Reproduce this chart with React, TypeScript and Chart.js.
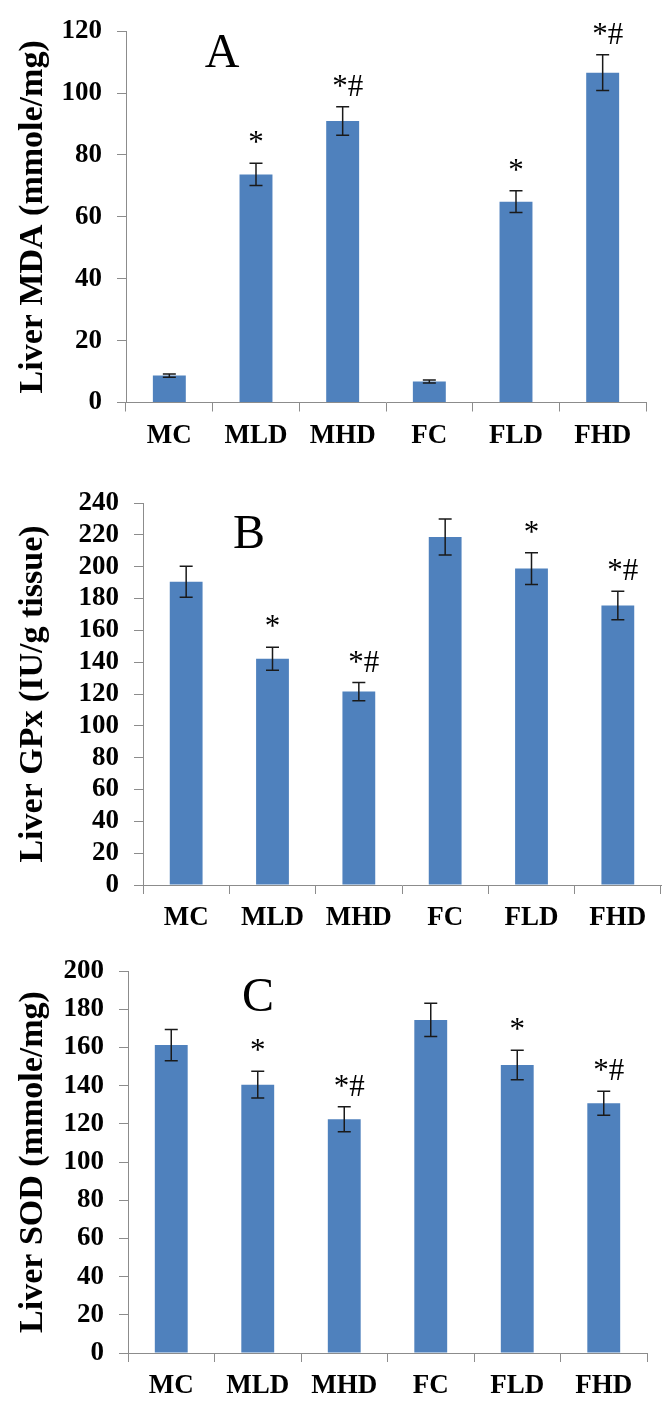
import React, { useEffect, useRef } from 'react';
import { Chart, registerables } from 'chart.js';

Chart.register(...registerables);

const groups = ['MC', 'MLD', 'MHD', 'FC', 'FLD', 'FHD'];

const mdaValues = [8.7, 73.7, 91.0, 6.8, 64.9, 106.6];
const mdaErrors = [0.5, 3.6, 4.6, 0.5, 3.5, 5.8];
const mdaMarks = ['', '*', '*#', '', '*', '*#'];

const gpxValues = [190.5, 142.2, 121.5, 218.7, 198.8, 175.6];
const gpxErrors = [9.7, 7.2, 5.7, 11.3, 10.0, 9.0];
const gpxMarks = ['', '*', '*#', '', '*', '*#'];

const sodValues = [161.2, 140.5, 122.4, 174.4, 150.8, 130.8];
const sodErrors = [8.2, 7.0, 6.5, 8.7, 7.7, 6.3];
const sodMarks = ['', '*', '*#', '', '*', '*#'];

const mdaMax = 120;
const gpxMax = 240;
const sodMax = 200;
const tickStep = 20;

const SERIF = '"Liberation Serif", "Times New Roman", serif';
const BAR = '#4F81BD';
const AXIS = '#8c8c8c';

type PanelProps = {
  top: number;
  height: number;
  yWidth: number;
  xHeight: number;
  padTop: number;
  padRight: number;
  padBottom: number;
  values: number[];
  errors: number[];
  marks: string[];
  yMax: number;
  title: string;
  letter: string;
  letterX: number;
  letterY: number;
};

function Panel(p: PanelProps) {
  const ref = useRef<HTMLCanvasElement>(null);
  useEffect(() => {
    const overlay = {
      id: 'overlay',
      afterDatasetsDraw(chart: any) {
        const { ctx } = chart;
        const y = chart.scales.y;
        const meta = chart.getDatasetMeta(0);
        ctx.save();
        ctx.strokeStyle = '#1a1a1a';
        ctx.lineWidth = 1.5;
        p.values.forEach((v, i) => {
          const cx = meta.data[i].x;
          const yt = y.getPixelForValue(v + p.errors[i]);
          const yb = y.getPixelForValue(v - p.errors[i]);
          ctx.beginPath();
          ctx.moveTo(cx, yt);
          ctx.lineTo(cx, yb);
          ctx.moveTo(cx - 6.5, yt);
          ctx.lineTo(cx + 6.5, yt);
          ctx.moveTo(cx - 6.5, yb);
          ctx.lineTo(cx + 6.5, yb);
          ctx.stroke();
          const m = p.marks[i];
          if (m) {
            ctx.fillStyle = '#000';
            ctx.font = `31px ${SERIF}`;
            ctx.textAlign = 'center';
            ctx.textBaseline = 'alphabetic';
            ctx.fillText(m, cx + (m.length > 1 ? 5 : 0), yt - 11);
          }
        });
        ctx.fillStyle = '#000';
        ctx.font = `48px ${SERIF}`;
        ctx.textAlign = 'center';
        ctx.textBaseline = 'alphabetic';
        ctx.fillText(p.letter, p.letterX, p.letterY);
        ctx.restore();
      },
    };
    const chart = new Chart(ref.current as HTMLCanvasElement, {
      type: 'bar',
      data: {
        labels: groups,
        datasets: [
          {
            data: p.values,
            backgroundColor: BAR,
            borderWidth: 0,
            barPercentage: 0.38,
            categoryPercentage: 1,
          },
        ],
      },
      options: {
        responsive: false,
        animation: false,
        layout: { padding: { left: 0, top: p.padTop, right: p.padRight, bottom: p.padBottom } },
        plugins: { legend: { display: false }, tooltip: { enabled: false } },
        scales: {
          x: {
            type: 'category',
            offset: true,
            grid: { offset: true, drawOnChartArea: false, drawTicks: true, tickLength: 9, color: AXIS, lineWidth: 1 },
            border: { display: true, color: AXIS, width: 1 },
            ticks: {
              color: '#000',
              font: { family: SERIF, size: 27, weight: 'bold' },
              padding: 8,
              maxRotation: 0,
              autoSkip: false,
            },
            afterFit: (s: any) => {
              s.height = p.xHeight;
            },
          },
          y: {
            min: 0,
            max: p.yMax,
            ticks: {
              stepSize: tickStep,
              autoSkip: false,
              color: '#000',
              font: { family: SERIF, size: 27, weight: 'bold' },
              padding: 15,
            },
            grid: { drawOnChartArea: false, drawTicks: true, tickLength: 9, color: AXIS, lineWidth: 1 },
            border: { display: true, color: AXIS, width: 1 },
            title: {
              display: true,
              text: p.title,
              color: '#000',
              font: { family: SERIF, size: 34, weight: 'bold' },
              padding: { top: 13, bottom: 0 },
            },
            afterFit: (s: any) => {
              s.width = p.yWidth;
            },
          },
        },
      } as any,
      plugins: [overlay],
    });
    return () => chart.destroy();
  }, []);
  return (
    <canvas
      ref={ref}
      width={670}
      height={p.height}
      style={{ position: 'absolute', left: 0, top: p.top, display: 'block' }}
    />
  );
}

export default function App() {
  return (
    <div style={{ position: 'absolute', left: 0, top: 0, width: 670, height: 1402, background: '#fff' }}>
      <Panel
        top={0}
        height={470}
        yWidth={126}
        xHeight={50}
        padTop={20}
        padRight={24}
        padBottom={17.5}
        values={mdaValues}
        errors={mdaErrors}
        marks={mdaMarks}
        yMax={mdaMax}
        title="Liver MDA (mmole/mg)"
        letter="A"
        letterX={222}
        letterY={67}
      />
      <Panel
        top={470}
        height={470}
        yWidth={143}
        xHeight={50}
        padTop={33}
        padRight={9}
        padBottom={5}
        values={gpxValues}
        errors={gpxErrors}
        marks={gpxMarks}
        yMax={gpxMax}
        title="Liver GPx (IU/g tissue)"
        letter="B"
        letterX={249}
        letterY={78}
      />
      <Panel
        top={930}
        height={472}
        yWidth={128}
        xHeight={49}
        padTop={41}
        padRight={23}
        padBottom={0}
        values={sodValues}
        errors={sodErrors}
        marks={sodMarks}
        yMax={sodMax}
        title="Liver SOD (mmole/mg)"
        letter="C"
        letterX={258}
        letterY={81}
      />
    </div>
  );
}
